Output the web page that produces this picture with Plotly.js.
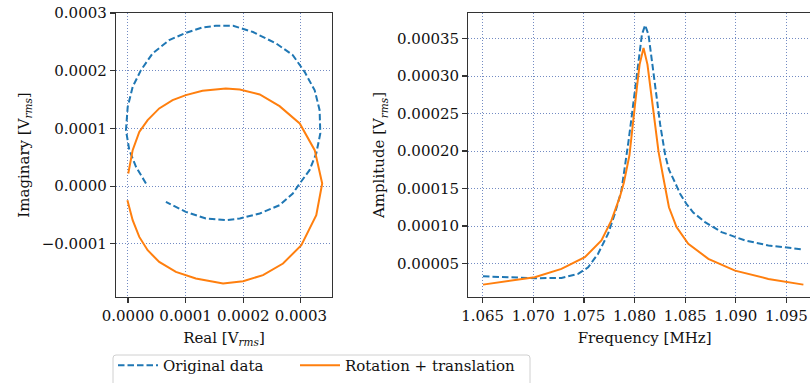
<!DOCTYPE html>
<html><head><meta charset="utf-8">
<script src="https://cdn.plot.ly/plotly-3.0.1.min.js"></script>
<style>html,body{margin:0;padding:0;background:#fff;overflow:hidden}#plot{width:821px;height:395px}</style>
</head><body><div id="plot"></div>
<script>
// Left panel: complex plane (Real, Imaginary) in V_rms
const origReal = [0.0000312,0.0000139,0.0000023,-0.0000035,-0.0000005,0.0000081,0.0000225,0.0000427,0.0000715,0.0001004,0.0001293,0.0001524,0.0001824,0.000217,0.0002575,0.000286,0.0003065,0.000324,0.0003325,0.0003337,0.0003267,0.000315,0.000298,0.000286,0.000263,0.0002286,0.000194,0.0001697,0.0001351,0.0001004,0.0000658];
const origImag = [0.0000047,0.0000335,0.0000624,0.000097,0.0001374,0.0001721,0.000201,0.00023,0.000253,0.0002657,0.000275,0.0002778,0.000278,0.000267,0.000247,0.000227,0.000198,0.000166,0.0001317,0.0000913,0.0000567,0.0000277,0.0000047,-0.0000127,-0.0000329,-0.0000474,-0.000056,-0.0000589,-0.000056,-0.0000445,-0.0000272];
const rotReal = [0.0000005,0.0000081,0.0000196,0.0000341,0.0000542,0.0000774,0.0001004,0.0001293,0.0001697,0.000194,0.0002286,0.000263,0.000298,0.000324,0.000337,0.0003267,0.0003008,0.000269,0.0002343,0.0001997,0.000165,0.0001177,0.0000831,0.0000542,0.0000341,0.0000196,0.0000081,-0.000001];
const rotImag = [0.000022,0.0000624,0.0000941,0.0001144,0.0001347,0.000149,0.0001577,0.0001652,0.0001693,0.0001676,0.0001589,0.0001386,0.0001087,0.0000624,0.0000047,-0.0000503,-0.0001022,-0.000134,-0.0001542,-0.0001646,-0.0001687,-0.00016,-0.0001485,-0.0001312,-0.000111,-0.0000879,-0.0000589,-0.0000243];
// Right panel: amplitude vs frequency [MHz]
const freqOrig = [1.06503,1.0675,1.07014,1.07278,1.07443,1.07542,1.0764,1.07739,1.07806,1.07871,1.07898,1.0794,1.07974,1.08006,1.0804,1.08073,1.08105,1.08138,1.08172,1.08214,1.08254,1.08303,1.0834,1.0840,1.0845,1.0851,1.0858,1.08696,1.0886,1.09091,1.09322,1.09668];
const ampOrig = [0.000033,0.0000317,0.0000304,0.0000308,0.0000362,0.000045,0.000063,0.0000898,0.0001166,0.0001478,0.0001722,0.0002124,0.000248,0.000284,0.000324,0.0003554,0.0003678,0.000355,0.00032,0.000275,0.0002348,0.0001946,0.000175,0.000158,0.000143,0.00013,0.000118,0.0001053,0.0000919,0.0000808,0.0000741,0.0000688];
const freqRot = [1.06503,1.07014,1.07278,1.07509,1.07673,1.07772,1.07855,1.07895,1.0795,1.0799,1.08023,1.0805,1.08089,1.08128,1.08162,1.08194,1.08237,1.08286,1.0834,1.08415,1.08531,1.08729,1.08993,1.09322,1.09668];
const ampRot = [0.0000219,0.0000317,0.0000429,0.0000584,0.0000808,0.0001076,0.0001388,0.000158,0.0001946,0.0002392,0.000284,0.0003152,0.0003375,0.0003152,0.0002794,0.0002392,0.0001991,0.0001634,0.000125,0.0000986,0.0000764,0.0000563,0.0000406,0.0000295,0.0000219];
const seriesNames = ["Original data","Rotation + translation"];
const blue = "#1f77b4", orange = "#ff7f0e";

const W = 821, H = 395;
const FONT = "DejaVu Serif";
const dashBlue = {color:blue, width:2, dash:"6.5px,3px"};
const solidOrange = {color:orange, width:2};
const traces = [
  {x: origReal, y: origImag, xaxis:"x", yaxis:"y", mode:"lines", name: seriesNames[0], line:dashBlue, legendgroup:"a", legend:"legend"},
  {x: rotReal, y: rotImag, xaxis:"x", yaxis:"y", mode:"lines", name: seriesNames[1], line:solidOrange, legendgroup:"b", legend:"legend2"},
  {x: freqOrig, y: ampOrig, xaxis:"x2", yaxis:"y2", mode:"lines", name: seriesNames[0], line:dashBlue, showlegend:false, legendgroup:"a"},
  {x: freqRot, y: ampRot, xaxis:"x2", yaxis:"y2", mode:"lines", name: seriesNames[1], line:solidOrange, showlegend:false, legendgroup:"b"}
];
const titleFont = {family:FONT, size:15, color:"#111"};
const axBase = {
  showline:true, linecolor:"#333", linewidth:1.2, ticks:"outside", ticklen:5, tickwidth:1.2,
  tickcolor:"#333", zeroline:false, tickfont:{family:FONT, size:15, color:"#111"},
  automargin:false, showgrid:true, gridcolor:"rgba(80,110,180,0.8)", griddash:"1px,2px", gridwidth:1
};
const yTop = (H-13)/H, yBot = (H-297)/H;
const legFont = {family:FONT, size:15, color:"#111"};
const legBase = {orientation:"h", xanchor:"left", y:(H-349)/H, yanchor:"top",
  borderwidth:0, bgcolor:"rgba(0,0,0,0)", font:legFont, itemwidth:40};
// legend frame (rounded rectangle), pixel coords converted to paper
const lx0 = 113/W, lx1 = 530/W, ly1 = (H-355)/H, ly0 = (H-392)/H, rx = 3/W, ry = 3/H;
const framePath = `M ${lx0+rx},${ly1} L ${lx1-rx},${ly1} Q ${lx1},${ly1} ${lx1},${ly1-ry} L ${lx1},${ly0+ry} Q ${lx1},${ly0} ${lx1-rx},${ly0} L ${lx0+rx},${ly0} Q ${lx0},${ly0} ${lx0},${ly0+ry} L ${lx0},${ly1-ry} Q ${lx0},${ly1} ${lx0+rx},${ly1} Z`;
const layout = {
  width:W, height:H, margin:{l:0,r:0,t:0,b:0},
  paper_bgcolor:"#fff", plot_bgcolor:"#fff",
  font:{family:FONT, size:15, color:"#111"},
  showlegend:true,
  legend: Object.assign({}, legBase, {x:113/W}),
  legend2: Object.assign({}, legBase, {x:295/W}),
  shapes:[{type:"path", xref:"paper", yref:"paper", path:framePath,
    line:{color:"#d0d0d0", width:1}, fillcolor:"rgba(255,255,255,0.8)", layer:"below"}],
  xaxis: Object.assign({}, axBase, {domain:[116/W, 332/W], range:[-0.0000208, 0.000354],
    tickvals:[0,0.0001,0.0002,0.0003], tickformat:".4f", mirror:true, anchor:"y",
    title:{text:"Real [V<sub><i>rms</i></sub>]", font:titleFont, standoff:8}}),
  yaxis: Object.assign({}, axBase, {domain:[yBot, yTop], range:[-0.000192, 0.0003],
    tickvals:[-0.0001,0,0.0001,0.0002,0.0003], tickformat:".4f", mirror:true, anchor:"x",
    title:{text:"Imaginary [V<sub><i>rms</i></sub>]", font:titleFont, standoff:8}}),
  xaxis2: Object.assign({}, axBase, {domain:[468.3/W, 1], range:[1.06358, 1.09842],
    tickvals:[1.065,1.07,1.075,1.08,1.085,1.09,1.095], tickformat:".3f", mirror:true, anchor:"y2",
    title:{text:"Frequency [MHz]", font:titleFont, standoff:8}}),
  yaxis2: Object.assign({}, axBase, {domain:[yBot, yTop], range:[0.0000054, 0.000384],
    tickvals:[0.00005,0.0001,0.00015,0.0002,0.00025,0.0003,0.00035], tickformat:".5f", mirror:true, anchor:"x2",
    title:{text:"Amplitude [V<sub><i>rms</i></sub>]", font:titleFont, standoff:8}})
};
Plotly.newPlot("plot", traces, layout, {staticPlot:true, displayModeBar:false});
</script></body></html>
